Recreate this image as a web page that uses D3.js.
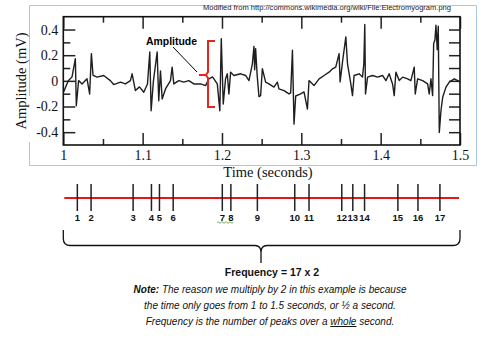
<!DOCTYPE html>
<html><head><meta charset="utf-8">
<script src="https://cdn.jsdelivr.net/npm/d3@7"></script>
<style>html,body{margin:0;padding:0;background:#fff;}svg{display:block;}</style>
</head><body>
<svg id="c" width="489" height="349"></svg>
<script>
// EMG trace: time (s), amplitude (mV)
const sigT = [1.0004,1.0063,1.011,1.0126,1.0152,1.0164,1.0193,1.0236,1.0299,1.0332,1.0354,1.0375,1.0426,1.0509,1.0593,1.0635,1.072,1.0783,1.0846,1.0867,1.0909,1.096,1.1014,1.1061,1.109,1.1107,1.1136,1.1183,1.1203,1.1225,1.1246,1.1288,1.1351,1.1372,1.1393,1.1456,1.1519,1.1582,1.1645,1.173,1.1793,1.1835,1.1881,1.1941,1.1973,1.1991,1.2016,1.2045,1.2067,1.2087,1.2109,1.215,1.2235,1.2298,1.234,1.2383,1.2403,1.2412,1.2424,1.2443,1.2466,1.2487,1.2509,1.255,1.2592,1.2655,1.2698,1.2718,1.2782,1.2845,1.2866,1.2888,1.2908,1.2929,1.2992,1.3034,1.3077,1.3097,1.316,1.3224,1.3287,1.335,1.3393,1.3434,1.3476,1.3489,1.3519,1.3561,1.3582,1.3624,1.3645,1.3665,1.3729,1.3771,1.3788,1.38,1.3809,1.3835,1.3898,1.3961,1.4024,1.4066,1.4107,1.415,1.4171,1.4192,1.4234,1.4277,1.434,1.4381,1.4423,1.4436,1.4466,1.4529,1.4592,1.4612,1.4634,1.4655,1.4668,1.4684,1.4697,1.4713,1.4726,1.4739,1.476,1.4782,1.4823,1.4865,1.4928,1.4971,1.5];
const sigV = [-0.086,0,0.031,0.086,0.173,-0.194,0.002,-0.024,0.016,-0.102,0.212,0.042,0.029,0.042,0.002,-0.029,-0.010,-0.024,0.002,0.055,-0.076,-0.047,-0.089,-0.024,0.225,-0.233,0,0.225,-0.155,0.078,-0.141,-0.063,0.002,0.107,-0.024,0.002,-0.01,0.002,-0.024,-0.024,-0.037,0.016,0.031,-0.024,-0.233,0.329,-0.18,0.016,0.055,-0.102,0.068,0.042,0.055,0.042,0.002,0.133,0.269,0.086,0.251,0.047,-0.123,-0.115,0.094,-0.01,-0.024,-0.049,-0.01,-0.063,-0.076,-0.102,-0.094,0.238,-0.337,-0.118,-0.102,-0.086,-0.22,0.002,-0.037,0.016,0.042,0.068,0.094,0.107,0.212,-0.008,0.147,0.343,0.133,-0.024,-0.115,0.042,0.055,0.029,0.133,0.44,-0.102,0.029,0.042,0.029,0.042,0.002,0.055,-0.024,-0.115,0.068,0.002,0.029,0.016,0.002,0.107,-0.102,0.016,0.002,-0.024,-0.102,0.016,-0.115,0.29,0.32,0.434,0.243,0.426,-0.402,-0.233,-0.128,-0.049,-0.01,0.016,0.002,-0.01];
// counted peaks (time, s)
const peakT = [1.0177,1.035,1.088,1.1111,1.1212,1.1385,1.2004,1.2112,1.2446,1.2917,1.3097,1.351,1.3649,1.3797,1.4217,1.447,1.4747];
const peakLabels = ["1","2","3","4","5","6","7","8","9","10","11","12","13","14","15","16","17"];
const xTicks = [1,1.1,1.2,1.3,1.4,1.5];
const xTickLabels = ["1","1.1","1.2","1.3","1.4","1.5"];
const xMinor = [1.05,1.15,1.25,1.35,1.45];
const yTicks = [-0.4,-0.2,0,0.2,0.4];
const yTickLabels = ["-0.4","-0.2","0","0.2","0.4"];
const yMinor = [-0.3,-0.1,0.1,0.3];

const svg = d3.select("#c");
const L=63.3, R=460, T=16.7, B=145;
const x = d3.scaleLinear().domain([1,1.5]).range([L,R]);
const y = d3.scaleLinear().domain([-0.5,0.5]).range([B,T]);
const serif = "'Liberation Serif','DejaVu Serif',serif";
const sans = "'Liberation Sans',Arial,sans-serif";

// light blue image border
const blue = "#a9c6ea";
svg.append("path").attr("d","M29.5,96 V5.5 H476.5 V165.5 H29.5 V142").attr("fill","none").attr("stroke",blue).attr("stroke-width",1);

// source note
svg.append("text").attr("x",203).attr("y",10).attr("font-family",sans).attr("font-size",7)
  .attr("fill","#222").attr("textLength",248).attr("lengthAdjust","spacingAndGlyphs")
  .text("Modified from http://commons.wikimedia.org/wiki/File:Electromyogram.png");

// axes
function styleAxis(g){ g.select(".domain").remove(); g.selectAll(".tick line").attr("stroke","#222").attr("stroke-width",1.5);
  g.selectAll("text").attr("font-family",serif).attr("font-size",14).attr("fill","#111"); }
svg.append("g").attr("transform",`translate(0,${B})`)
  .call(d3.axisBottom(x).tickValues(xTicks).tickFormat((d,i)=>xTickLabels[i]).tickSizeInner(-12).tickSizeOuter(0).tickPadding(5)).call(styleAxis);
svg.append("g").attr("transform",`translate(0,${B})`)
  .call(d3.axisBottom(x).tickValues(xMinor).tickFormat("").tickSizeInner(-6).tickSizeOuter(0)).call(styleAxis);
svg.append("g").attr("transform",`translate(0,${T})`)
  .call(d3.axisTop(x).tickValues(xTicks).tickFormat("").tickSizeInner(-12).tickSizeOuter(0)).call(styleAxis);
svg.append("g").attr("transform",`translate(0,${T})`)
  .call(d3.axisTop(x).tickValues(xMinor).tickFormat("").tickSizeInner(-6).tickSizeOuter(0)).call(styleAxis);
svg.append("g").attr("transform",`translate(${L},0)`)
  .call(d3.axisLeft(y).tickValues(yTicks).tickFormat((d,i)=>yTickLabels[i]).tickSizeInner(-12).tickSizeOuter(0).tickPadding(5)).call(styleAxis);
svg.append("g").attr("transform",`translate(${L},0)`)
  .call(d3.axisLeft(y).tickValues(yMinor).tickFormat("").tickSizeInner(-7).tickSizeOuter(0)).call(styleAxis);
svg.append("g").attr("transform",`translate(${R},0)`)
  .call(d3.axisRight(y).tickValues(yTicks.concat(yMinor)).tickFormat("").tickSizeInner(-11).tickSizeOuter(0)).call(styleAxis);

// frame
svg.append("rect").attr("x",L).attr("y",T).attr("width",R-L).attr("height",B-T)
  .attr("fill","none").attr("stroke","#111").attr("stroke-width",1.6);

// signal
const pts = sigT.map((t,i)=>[t,sigV[i]]);
svg.append("path").datum(pts).attr("fill","none").attr("stroke","#1e1e1e").attr("stroke-width",1.4)
  .attr("stroke-linejoin","round").attr("d",d3.line().x(d=>x(d[0])).y(d=>y(d[1])));

// axis titles
svg.append("text").attr("x",268).attr("y",177).attr("text-anchor","middle").attr("font-family",serif)
  .attr("font-size",14.5).attr("fill","#111").text("Time (seconds)");
svg.append("text").attr("transform","translate(26,81) rotate(-90)").attr("text-anchor","middle")
  .attr("font-family",serif).attr("font-size",14.5).attr("fill","#111").text("Amplitude (mV)");

// amplitude annotation
svg.append("text").attr("x",146).attr("y",45).attr("font-family",sans).attr("font-weight","bold")
  .attr("font-size",11).attr("fill","#000").attr("textLength",51).attr("lengthAdjust","spacingAndGlyphs").text("Amplitude");
svg.append("line").attr("x1",173).attr("y1",47).attr("x2",197).attr("y2",72).attr("stroke","#000").attr("stroke-width",1);
svg.append("path").attr("d","M215,41 H208 V72 L206,75 H199 M206,75 L208,78 V107 H215")
  .attr("fill","none").attr("stroke","#e8231e").attr("stroke-width",2);

// peak counting line
const lineY = 198;
svg.append("line").attr("x1",x(1)+1).attr("x2",x(1.5)-1).attr("y1",lineY).attr("y2",lineY)
  .attr("stroke","#e8161b").attr("stroke-width",2.2);
svg.selectAll(".pk").data(peakT).join("line").attr("class","pk")
  .attr("x1",d=>x(d)).attr("x2",d=>x(d)).attr("y1",184).attr("y2",211)
  .attr("stroke","#222").attr("stroke-width",1.5);
svg.selectAll(".pl").data(peakT).join("text").attr("class","pl")
  .attr("x",d=>x(d)).attr("y",221).attr("text-anchor","middle").attr("font-family",sans)
  .attr("font-weight","bold").attr("font-size",9.5).attr("fill","#111").text((d,i)=>peakLabels[i]);
// spell-check squiggle under 7 8
svg.append("path").attr("d","M217,222.5 q1,-1.5 2,0 t2,0 t2,0 t2,0 t2,0 t2,0 t2,0 t2,0")
  .attr("fill","none").attr("stroke","#5a9a3a").attr("stroke-width",0.8);

// brace
const bl=x(1), br=x(1.5), mid=261, by=245.5, bt=230, tip=263;
svg.append("path").attr("d",`M${bl},${bt} V${by-7} Q${bl},${by} ${bl+7},${by} H${mid-6} Q${mid},${by} ${mid},${by+7} V${tip} M${mid},${by+7} Q${mid},${by} ${mid+6},${by} H${br-7} Q${br},${by} ${br},${by-7} V${bt}`)
  .attr("fill","none").attr("stroke","#111").attr("stroke-width",1.3);

// text block
svg.append("text").attr("x",272).attr("y",276).attr("text-anchor","middle").attr("font-family",sans)
  .attr("font-weight","bold").attr("font-size",10.5).attr("fill","#111").text("Frequency = 17 x 2");
const t1 = svg.append("text").attr("x",270).attr("y",293).attr("text-anchor","middle").attr("font-family",sans)
  .attr("font-style","italic").attr("font-size",10).attr("fill","#111");
t1.append("tspan").attr("font-weight","bold").text("Note:");
t1.append("tspan").text(" The reason we multiply by 2 in this example is because");
svg.append("text").attr("x",270).attr("y",309).attr("text-anchor","middle").attr("font-family",sans)
  .attr("font-style","italic").attr("font-size",10).attr("fill","#111").text("the time only goes from 1 to 1.5 seconds, or \u00BD a second.");
const t3 = svg.append("text").attr("x",270).attr("y",325).attr("text-anchor","middle").attr("font-family",sans)
  .attr("font-style","italic").attr("font-size",10).attr("fill","#111");
t3.append("tspan").text("Frequency is the number of peaks over a ");
t3.append("tspan").attr("text-decoration","underline").text("whole");
t3.append("tspan").text(" second.");
</script>
</body></html>
